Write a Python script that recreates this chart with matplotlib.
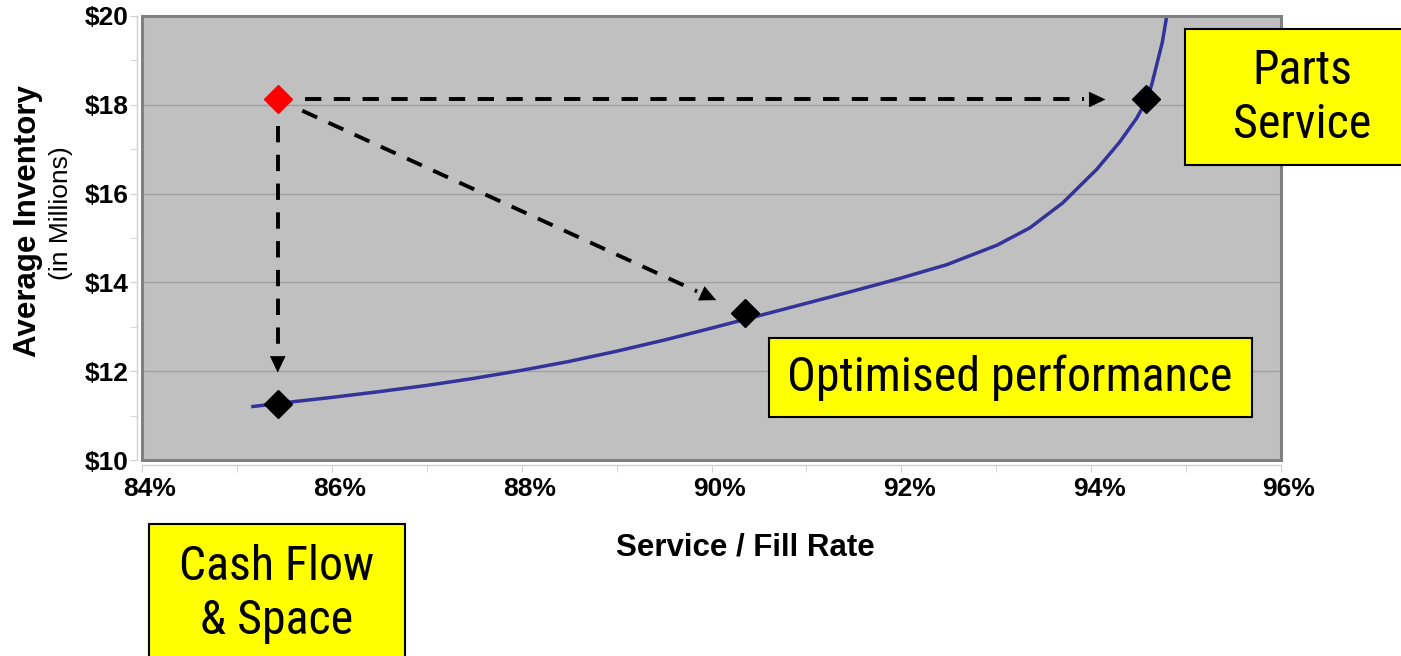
import matplotlib
matplotlib.use("Agg")
import matplotlib.pyplot as plt
import numpy as np
from matplotlib.ticker import MultipleLocator, FuncFormatter
from matplotlib import font_manager
from matplotlib.patches import Rectangle
import matplotlib.transforms as mtransforms

# ---- data ----
curve_service = [85.15, 85.5, 86.0, 86.5, 87.0, 87.5, 88.0, 88.5, 89.0, 89.5,
                 90.0, 90.5, 91.0, 91.5, 92.0, 92.48, 93.01, 93.355, 93.70,
                 94.06, 94.30, 94.48, 94.59, 94.64, 94.69, 94.75, 94.80]
curve_inventory = [11.2, 11.29, 11.41, 11.54, 11.68, 11.84, 12.02, 12.22, 12.45, 12.7,
                   12.97, 13.25, 13.53, 13.81, 14.1, 14.4, 14.84, 15.23, 15.79,
                   16.55, 17.16, 17.7, 18.13, 18.47, 18.9, 19.41, 20.05]
point_service = [85.43, 90.35, 94.58]
point_inventory = [11.25, 13.3, 18.12]
current_service = 85.43
current_inventory = 18.12
arrow_targets_service = [94.15, 85.43, 90.05]
arrow_targets_inventory = [18.12, 11.97, 13.6]

xlabel = "Service / Fill Rate"
ylabel = "Average Inventory"
ylabel_sub = "(in Millions)"
box_texts = ["Parts\nService", "Optimised performance", "Cash Flow\n& Space"]

# ---- fonts ----
plt.rcParams['font.family'] = ['Liberation Sans', 'DejaVu Sans']
ttf = font_manager.fontManager.ttflist
names = {f.name for f in ttf}
narrow_family, narrow_stretch, narrow_size = 'Liberation Sans', 'normal', 29
for cand in ['Liberation Sans Narrow', 'Arial Narrow', 'Roboto Condensed',
             'Open Sans Condensed']:
    if cand in names:
        narrow_family, narrow_stretch, narrow_size = cand, 'normal', 34.5
        break
else:
    found = None
    for fam in ['Roboto', 'Open Sans', 'Noto Sans', 'DejaVu Sans']:
        for f in ttf:
            if f.name == fam and str(f.stretch) in ('condensed', 'semi-condensed', '87.5', '75'):
                found = fam
                break
        if found:
            break
    if found:
        narrow_family, narrow_stretch, narrow_size = found, 'condensed', 31

W, H = 1401, 656
fig = plt.figure(figsize=(W/100, H/100), dpi=100)
ax = fig.add_axes([142/W, 1 - 460/H, (1281-142)/W, (460-16)/H])
ax.set_xlim(84, 96)
ax.set_ylim(10, 20)
ax.patch.set_facecolor('#c0c0c0')

ax.add_patch(Rectangle((0, 0), 1, 1, transform=ax.transAxes, fill=False,
                       edgecolor='#808080', linewidth=2.2, zorder=5, clip_on=False))

for s in ['top', 'right']:
    ax.spines[s].set_visible(False)
for s in ['left', 'bottom']:
    ax.spines[s].set_position(('outward', 3.5))
    ax.spines[s].set_color('#d0d0d0')
    ax.spines[s].set_linewidth(1)

ax.xaxis.set_major_locator(MultipleLocator(2))
ax.xaxis.set_minor_locator(MultipleLocator(1))
ax.yaxis.set_major_locator(MultipleLocator(2))
ax.yaxis.set_minor_locator(MultipleLocator(1))
ax.xaxis.set_major_formatter(FuncFormatter(lambda v, p: f"{v:.0f}%"))
ax.yaxis.set_major_formatter(FuncFormatter(lambda v, p: f"${v:.0f}"))
ax.tick_params(axis='both', which='both', color='#d0d0d0', direction='out', length=5)
ax.tick_params(axis='both', which='major', labelsize=19)
ax.tick_params(axis='x', pad=4)
ax.tick_params(axis='y', pad=1)
shift = mtransforms.ScaledTranslation(8/100, 0, fig.dpi_scale_trans)
for lab in ax.get_xticklabels():
    lab.set_fontweight('bold')
    lab.set_transform(lab.get_transform() + shift)
for lab in ax.get_yticklabels():
    lab.set_fontweight('bold')

ax.grid(axis='y', which='major', color='#a0a0a0', linewidth=1)
ax.set_axisbelow(True)

ax.plot(curve_service, curve_inventory, color='#333399', linewidth=2.5, zorder=3,
        solid_capstyle='butt', solid_joinstyle='round')
ax.plot(point_service, point_inventory, linestyle='none', marker='D', markersize=14,
        color='black', zorder=4)
ax.plot([current_service], [current_inventory], linestyle='none', marker='D',
        markersize=14, color='#ff0000', zorder=4)

# dashed arrows: shaft dashed, solid filled head
start_gap, head_len = 27, 15   # pixels
p0 = ax.transData.transform((current_service, current_inventory))
for tx, ty in zip(arrow_targets_service, arrow_targets_inventory):
    p1 = ax.transData.transform((tx, ty))
    d = (p1 - p0) / np.hypot(*(p1 - p0))
    s = ax.transData.inverted().transform(p0 + d * start_gap)
    e = ax.transData.inverted().transform(p1 - d * (head_len + 6))
    hb = ax.transData.inverted().transform(p1 - d * head_len)
    ax.plot([s[0], e[0]], [s[1], e[1]], color='black', linewidth=2.8,
            linestyle=(0, (4.2, 3.2)), dash_capstyle='butt', zorder=4)
    ax.annotate("", xy=(tx, ty), xytext=(hb[0], hb[1]),
                arrowprops=dict(arrowstyle='-|>,head_length=1.05,head_width=0.5',
                                linewidth=0.5, color='black', shrinkA=0, shrinkB=0,
                                mutation_scale=10.5),
                zorder=4)

fig.text(745/W, 1 - 547/H, xlabel, fontsize=22.5, fontweight='bold',
         ha='center', va='center')
fig.text(28/W, 1 - 221/H, ylabel, rotation=90, fontsize=22.5, fontweight='bold',
         ha='center', va='center')
fig.text(61/W, 1 - 213/H, ylabel_sub, rotation=90, fontsize=19,
         ha='center', va='center')

def box(x0, y0, x1, y1, text, tx, ty):
    fig.patches.append(Rectangle((x0/W, 1 - y1/H), (x1-x0)/W, (y1-y0)/H,
                                 transform=fig.transFigure, facecolor='#ffff00',
                                 edgecolor='black', linewidth=1.5, zorder=10))
    fig.text(tx/W, 1 - ty/H, text, family=[narrow_family, 'DejaVu Sans'],
             fontstretch=narrow_stretch, fontsize=narrow_size,
             ha='center', va='center', linespacing=1.25, zorder=11)

box(1185, 29, 1410, 165, box_texts[0], 1302, 98)
box(769, 338, 1252, 417, box_texts[1], 1010, 378)
box(149, 524, 405, 670, box_texts[2], 277, 594)

fig.savefig("out.png", dpi=100)
